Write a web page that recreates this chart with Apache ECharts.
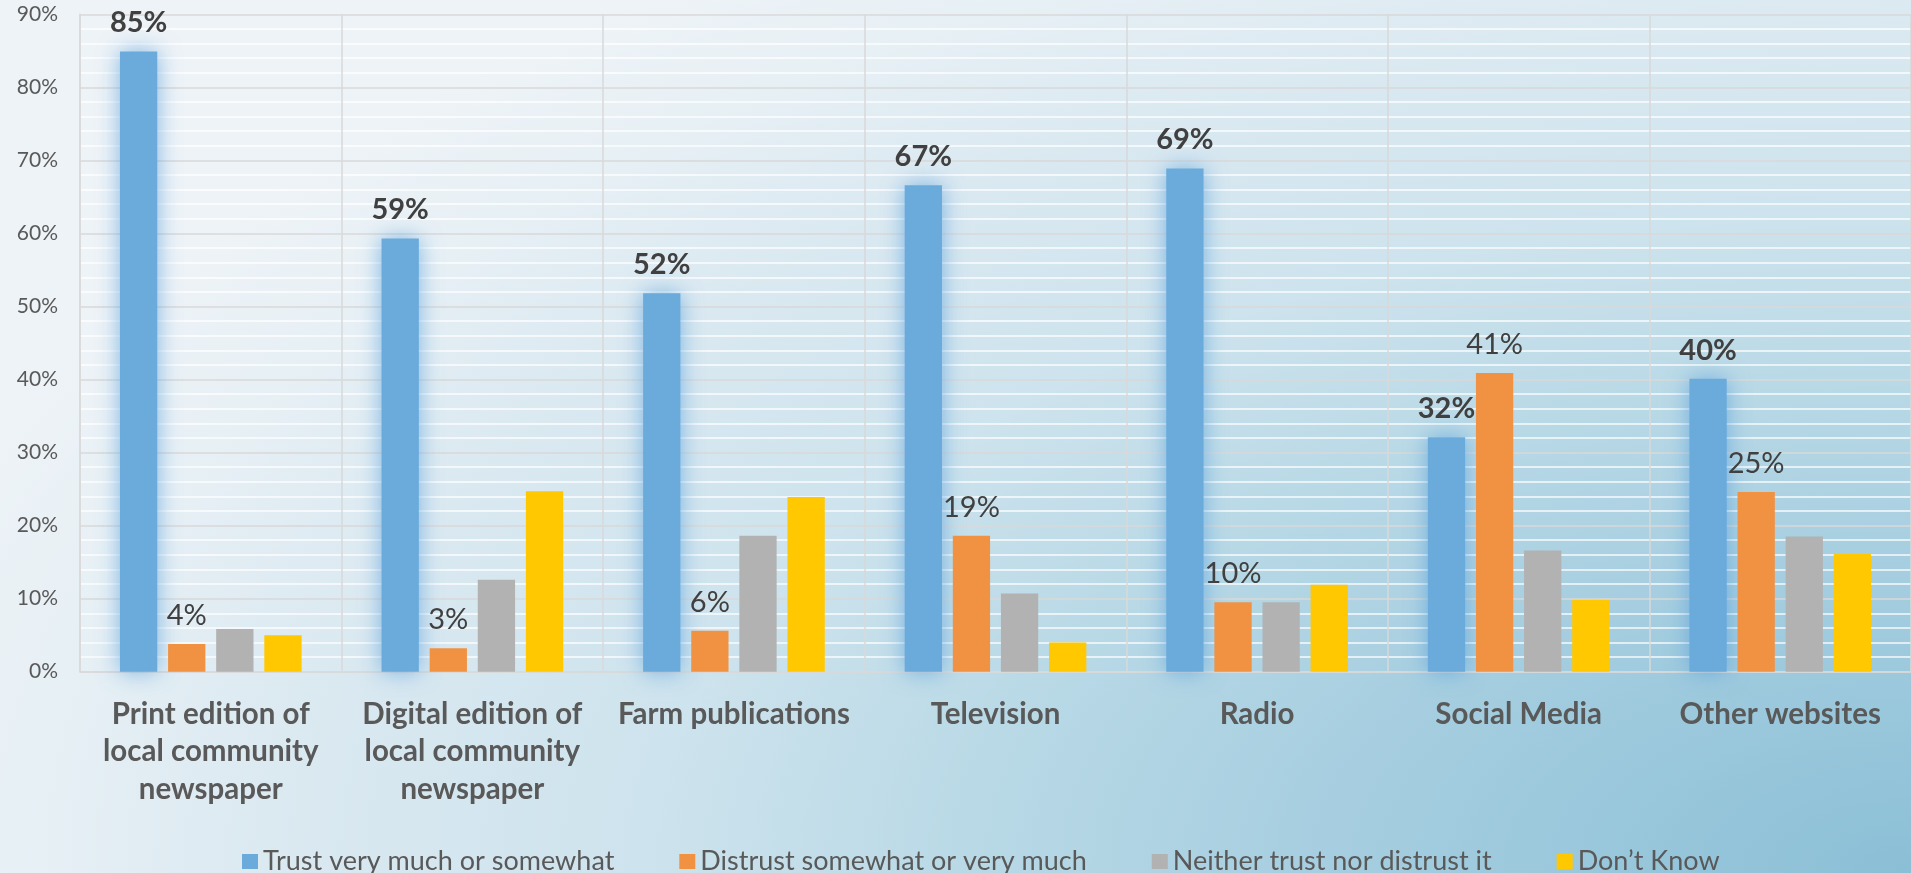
<!DOCTYPE html>
<html>
<head>
<meta charset="utf-8">
<script src="https://cdn.jsdelivr.net/npm/echarts@6/dist/echarts.min.js"></script>
<style>
  html, body { margin: 0; padding: 0; width: 1911px; height: 873px; overflow: hidden; }
  body {
    background: radial-gradient(ellipse 2100px 1100px at 100% 100%,
      #8bbfd6 0%, #a6cee0 28%, #b9d9e6 45%, #cde3ed 60%, #dbe9f1 78%, #e7f0f5 90%, #eef3f7 100%);
  }
  #chart { width: 1911px; height: 873px; }
</style>
</head>
<body>
<div id="chart"></div>
<script>
// Categories (media sources) and survey shares in percent
const categories = [
  'Print edition of\nlocal community\nnewspaper',
  'Digital edition of\nlocal community\nnewspaper',
  'Farm publications',
  'Television',
  'Radio',
  'Social Media',
  'Other websites'
];
const seriesNames = [
  'Trust very much or somewhat',
  'Distrust somewhat or very much',
  'Neither trust nor distrust it',
  'Don\u2019t Know'
];
const trustValues    = [84.9, 59.3, 51.8, 66.6, 68.9, 32.1, 40.1];
const distrustValues = [3.8, 3.2, 5.6, 18.6, 9.5, 40.9, 24.6];
const neitherValues  = [5.85, 12.6, 18.6, 10.7, 9.5, 16.6, 18.5];
const dontKnowValues = [5.0, 24.7, 23.9, 4.0, 11.9, 9.8, 16.1];
const yTicks = { min: 0, max: 90, interval: 10 };

const FONT = 'Lato, "Open Sans", sans-serif';
const pct = p => Math.round(p.value) + '%';

const barCommon = { type: 'bar', barWidth: 37.3, barGap: '29%' };

const chart = echarts.init(document.getElementById('chart'), null, { renderer: 'canvas' });
chart.setOption({
  animation: false,
  backgroundColor: 'transparent',
  textStyle: { fontFamily: FONT },
  grid: { left: 80, right: -7, top: 14.3, bottom: 201.3, containLabel: false },
  legend: {
    data: seriesNames,
    left: 237, top: 843,
    icon: 'rect', itemWidth: 16, itemHeight: 15, itemGap: 65,
    selectedMode: false,
    textStyle: { fontFamily: FONT, fontSize: 27, color: '#595959' }
  },
  xAxis: {
    type: 'category',
    data: categories,
    axisTick: { show: false },
    axisLine: { lineStyle: { color: '#d9d9d9', width: 1.5 } },
    splitLine: { show: true, interval: 0, lineStyle: { color: '#d9d9d9', width: 1.5 } },
    axisLabel: {
      interval: 0, margin: 24,
      fontFamily: FONT, fontWeight: 'bold', fontSize: 29.5, lineHeight: 37.5, color: '#595959'
    }
  },
  yAxis: {
    type: 'value',
    min: yTicks.min, max: yTicks.max, interval: yTicks.interval,
    axisLine: { show: true, lineStyle: { color: '#d9d9d9', width: 1.5 } },
    axisTick: { show: false },
    axisLabel: {
      formatter: '{value}%', margin: 22, padding: [6, 0, 0, 0],
      fontFamily: FONT, fontSize: 21, color: '#595959'
    },
    splitLine: { lineStyle: { color: '#d9d9d9', width: 1.5 } },
    minorTick: { show: false, splitNumber: 5 },
    minorSplitLine: { show: true, lineStyle: { color: 'rgba(255,255,255,0.9)', width: 1.5 } }
  },
  series: [
    Object.assign({}, barCommon, {
      name: seriesNames[0], data: trustValues,
      itemStyle: { color: '#6aabdc', shadowBlur: 22, shadowColor: 'rgba(90,160,220,0.75)' },
      label: { show: true, position: 'top', distance: 14, formatter: pct,
               fontFamily: FONT, fontWeight: 'bold', fontSize: 29, color: '#404040' }
    }),
    Object.assign({}, barCommon, {
      name: seriesNames[1], data: distrustValues,
      itemStyle: { color: '#f19142' },
      label: { show: true, position: 'top', distance: 14, formatter: pct,
               fontFamily: FONT, fontSize: 29, color: '#404040' }
    }),
    Object.assign({}, barCommon, {
      name: seriesNames[2], data: neitherValues,
      itemStyle: { color: '#b2b2b2' }
    }),
    Object.assign({}, barCommon, {
      name: seriesNames[3], data: dontKnowValues,
      itemStyle: { color: '#ffc800' }
    })
  ]
});
</script>
</body>
</html>
